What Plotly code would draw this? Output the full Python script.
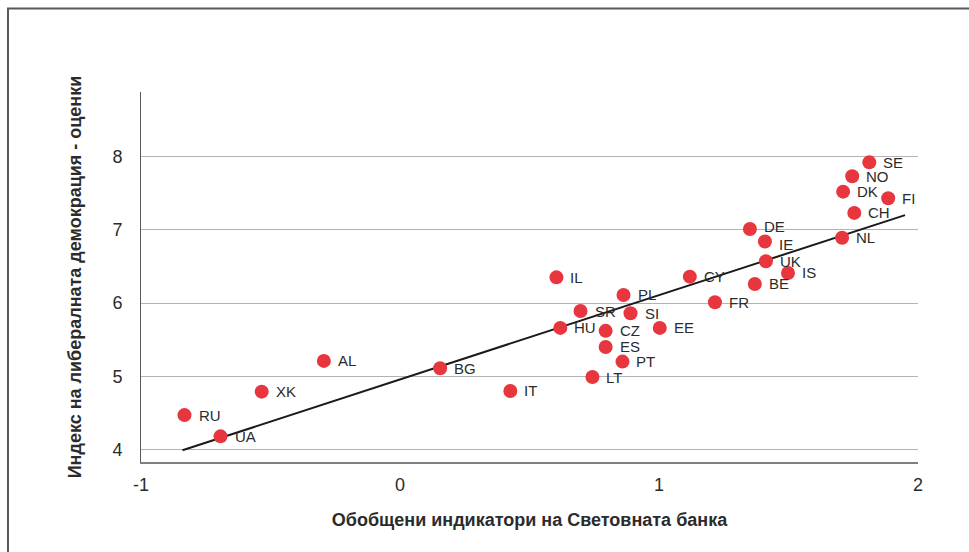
import plotly.graph_objects as go

countries = ["RU", "UA", "XK", "AL", "BG", "IT", "IL", "SR", "HU", "PL", "SI", "CZ", "ES", "PT", "LT",
             "EE", "CY", "FR", "DE", "IE", "UK", "BE", "IS", "NL", "CH", "FI", "DK", "NO", "SE"]
wb_indicator = [-0.832, -0.693, -0.534, -0.294, 0.155, 0.426, 0.604, 0.697, 0.619, 0.863, 0.890, 0.794,
                0.794, 0.859, 0.743, 1.003, 1.119, 1.216, 1.351, 1.409, 1.413, 1.370, 1.498, 1.707,
                1.754, 1.885, 1.711, 1.746, 1.812]
lib_dem = [4.47, 4.18, 4.79, 5.21, 5.11, 4.80, 6.35, 5.89, 5.66, 6.11, 5.86, 5.62, 5.40, 5.20, 4.99,
           5.66, 6.36, 6.01, 7.01, 6.84, 6.57, 6.26, 6.41, 6.89, 7.23, 7.43, 7.52, 7.73, 7.92]
trend_x = [-0.84, 1.95]
trend_y = [3.99, 7.20]
x_ticks = [-1, 0, 1, 2]
x_tick_labels = ["-1", "0", "1", "2"]
y_ticks = [4, 5, 6, 7, 8]

# small vertical label nudges (pixels) to keep crowded labels apart
label_nudge = {"DE": 3, "IE": -3}

FONT = "Liberation Sans, Arial, sans-serif"

fig = go.Figure()
fig.add_trace(go.Scatter(x=trend_x, y=trend_y, mode="lines",
                         line=dict(color="#1a1a1a", width=2), hoverinfo="skip", showlegend=False))
fig.add_trace(go.Scatter(x=wb_indicator, y=lib_dem, mode="markers", text=countries,
                         hoverinfo="text+x+y",
                         marker=dict(size=14, color="#E8363F"), showlegend=False))

for c, xv, yv in zip(countries, wb_indicator, lib_dem):
    fig.add_annotation(x=xv, y=yv, text=c, showarrow=False, xanchor="left", yanchor="middle",
                       xshift=12, yshift=label_nudge.get(c, 0),
                       font=dict(family=FONT, size=15, color="#2b2b2b"))

fig.update_layout(
    width=969, height=552,
    margin=dict(l=141, r=51, t=92, b=90),
    paper_bgcolor="white", plot_bgcolor="white",
    font=dict(family=FONT, size=18, color="#2b2b2b"),
    xaxis=dict(range=[-1, 2], tickvals=x_ticks, ticktext=x_tick_labels, showgrid=False, zeroline=False,
               showline=True, linecolor="#7f7f7f", linewidth=2, ticks="",
               ticklabelstandoff=5,
               title=dict(text="<b>Обобщени индикатори на Световната банка</b>",
                          font=dict(family=FONT, size=18, color="#2b2b2b"), standoff=20)),
    yaxis=dict(range=[3.83, 8.88], tickvals=y_ticks, showgrid=True, gridcolor="#b3b3b3", gridwidth=1,
               zeroline=False, showline=True, linecolor="#595959", linewidth=1, ticks="",
               ticklabelstandoff=14,
               title=dict(text="<b>Индекс на либералната демокрация - оценки</b>",
                          font=dict(family=FONT, size=18, color="#2b2b2b"), standoff=26)),
    shapes=[dict(type="rect", xref="paper", yref="paper",
                 x0=-0.1712, x1=1.3, y0=-0.4, y1=1.2257,
                 line=dict(color="#595959", width=2), fillcolor="rgba(0,0,0,0)", layer="below")],
)

fig.write_html("out.html", config={"displayModeBar": False},
               post_script="document.body.style.margin='0';")
